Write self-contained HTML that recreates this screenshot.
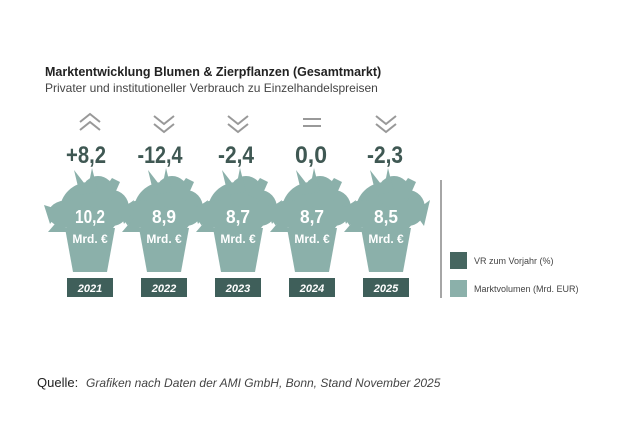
<!DOCTYPE html>
<html><head><meta charset="utf-8"><style>
body{margin:0;background:#fff;width:626px;height:417px;overflow:hidden;font-family:"Liberation Sans",sans-serif}
</style></head><body>
<svg width="626" height="417" viewBox="0 0 626 417" xmlns="http://www.w3.org/2000/svg">
<text x="45" y="76" font-size="12.5" font-weight="bold" fill="#222">Marktentwicklung Blumen &amp; Zierpflanzen (Gesamtmarkt)</text>
<text x="45" y="92" font-size="12" fill="#444">Privater und institutioneller Verbrauch zu Einzelhandelspreisen</text>
<defs>
<g id="pot">
<path d="M-25,228 L25,228 L17,272 L-17,272 Z" fill="#8bb0aa"/>
<ellipse cx="0" cy="210" rx="30" ry="28" fill="#8bb0aa"/>
<ellipse cx="-22" cy="214" rx="20" ry="14" fill="#8bb0aa"/>
<ellipse cx="22" cy="208" rx="17" ry="18" fill="#8bb0aa"/>
<ellipse cx="8" cy="192" rx="16" ry="16" fill="#8bb0aa"/>
<path d="M-10,195 L-16,170 L-2,188 L2,168 L8,192 Z" fill="#8bb0aa"/>
<path d="M10,195 L22,178 L30,182 L22,200 Z" fill="#8bb0aa"/>
<path d="M-30,210 L-46,205 L-40,224 Z" fill="#8bb0aa"/>
<path d="M28,212 L44,200 L38,226 Z" fill="#8bb0aa"/>
<path d="M-42,232 L-30,218 L-22,232 Z" fill="#8bb0aa"/>
<rect x="-23" y="278" width="46" height="19" fill="#3f5f5a"/>
</g>
</defs>
<g font-family="Liberation Sans Narrow, Liberation Sans, sans-serif">
<g transform="translate(90,0)"><use href="#pot"/></g>
<g transform="translate(164,0)"><use href="#pot"/></g>
<g transform="translate(238,0)"><use href="#pot"/></g>
<g transform="translate(312,0)"><use href="#pot"/></g>
<g transform="translate(386,0)"><use href="#pot"/></g>
<g fill="none" stroke="#999" stroke-width="2">
<path d="M80,122 L90,114 L100,122 M80,130 L90,122 L100,130"/>
<path d="M154,116 L164,124 L174,116 M154,124 L164,132 L174,124"/>
<path d="M228,116 L238,124 L248,116 M228,124 L238,132 L248,124"/>
<path d="M303,119 L321,119 M303,126 L321,126"/>
<path d="M376,116 L386,124 L396,116 M376,124 L386,132 L396,124"/>
</g>
<g font-size="24" font-weight="bold" fill="#3f5853" text-anchor="middle" lengthAdjust="spacingAndGlyphs">
<text x="86" y="163" textLength="40" lengthAdjust="spacingAndGlyphs">+8,2</text>
<text x="160" y="163" textLength="45" lengthAdjust="spacingAndGlyphs">-12,4</text>
<text x="236" y="163" textLength="36" lengthAdjust="spacingAndGlyphs">-2,4</text>
<text x="311" y="163" textLength="32" lengthAdjust="spacingAndGlyphs">0,0</text>
<text x="385" y="163" textLength="36" lengthAdjust="spacingAndGlyphs">-2,3</text>
</g>
<g font-size="18" font-weight="bold" fill="#fff" text-anchor="middle">
<text x="90" y="223" textLength="30" lengthAdjust="spacingAndGlyphs">10,2</text>
<text x="164" y="223" textLength="24" lengthAdjust="spacingAndGlyphs">8,9</text>
<text x="238" y="223" textLength="24" lengthAdjust="spacingAndGlyphs">8,7</text>
<text x="312" y="223" textLength="24" lengthAdjust="spacingAndGlyphs">8,7</text>
<text x="386" y="223" textLength="24" lengthAdjust="spacingAndGlyphs">8,5</text>
</g>
<g font-size="12" font-weight="bold" fill="#fff" text-anchor="middle">
<text x="90" y="243">Mrd. €</text><text x="164" y="243">Mrd. €</text><text x="238" y="243">Mrd. €</text><text x="312" y="243">Mrd. €</text><text x="386" y="243">Mrd. €</text>
</g>
<g font-size="11" font-weight="bold" font-style="italic" fill="#fff" text-anchor="middle">
<text x="90" y="292">2021</text><text x="164" y="292">2022</text><text x="238" y="292">2023</text><text x="312" y="292">2024</text><text x="386" y="292">2025</text>
</g>
</g>
<line x1="441" y1="180" x2="441" y2="298" stroke="#888" stroke-width="1.5"/>
<rect x="450" y="252" width="17" height="17" fill="#466660"/>
<rect x="450" y="280" width="17" height="17" fill="#8bb0aa"/>
<text x="474" y="264" font-size="9" fill="#444">VR zum Vorjahr (%)</text>
<text x="474" y="292" font-size="9" fill="#444">Marktvolumen (Mrd. EUR)</text>
<text x="37" y="387" font-size="13" fill="#222">Quelle:</text>
<text x="86" y="387" font-size="12" font-style="italic" fill="#444">Grafiken nach Daten der AMI GmbH, Bonn, Stand November 2025</text>
</svg>
</body></html>
